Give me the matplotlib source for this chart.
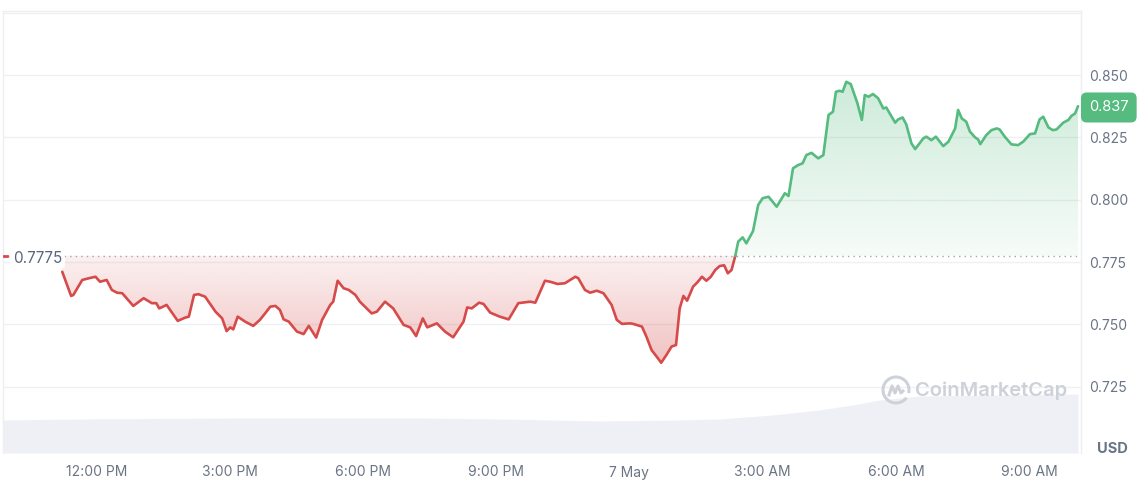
import numpy as np
import matplotlib
matplotlib.use("Agg")
import matplotlib.pyplot as plt
from matplotlib.patches import Arc
from matplotlib.lines import Line2D
from matplotlib.path import Path
from matplotlib.colors import to_rgb

plt.rcParams['font.family'] = ['Inter', 'DejaVu Sans']

# minutes after 6 May 12:00 PM
minutes = [-46, -34, -31, -19, -15, -10, -1, 5, 14, 21, 28, 35, 50, 64, 75, 81, 85, 95,
           110, 120, 125, 132, 138, 147, 161, 170, 176, 181, 185, 191, 201, 212, 221, 228,
           235, 242, 248, 253, 260, 271, 280, 287, 297, 305, 316, 320, 326, 334, 341, 350,
           356, 372, 379, 390, 401, 415, 424, 432, 441, 447, 460, 471, 482, 496, 501, 507,
           517, 523, 532, 545, 557, 570, 586, 593, 606, 613, 623, 633, 647, 651, 660, 667,
           676, 685, 696, 703, 710, 721, 725, 737, 743, 750, 757, 763, 770, 777, 783, 788,
           793, 798, 806, 812, 818, 824, 830, 836, 842, 848, 853, 858, 863, 867, 873, 878,
           887, 894, 900, 908, 919, 930, 935, 941, 948, 954, 959, 966, 975, 982, 989, 995,
           999, 1004, 1008, 1013, 1019, 1028, 1034, 1038, 1043, 1049, 1056, 1063, 1067,
           1079, 1083, 1089, 1094, 1101, 1106, 1117, 1121, 1128, 1134, 1144, 1151, 1160,
           1164, 1169, 1175, 1180, 1187, 1191, 1194, 1202, 1209, 1216, 1220, 1227, 1236,
           1245, 1252, 1261, 1268, 1274, 1279, 1286, 1292, 1297, 1306, 1313, 1317, 1322, 1326]
price = [0.7711, 0.7614, 0.7618, 0.7678, 0.7681, 0.7685, 0.7691, 0.7671, 0.7678, 0.7638,
         0.7627, 0.7625, 0.7574, 0.7605, 0.7585, 0.7585, 0.7564, 0.7578, 0.7514, 0.7527,
         0.7531, 0.7618, 0.7621, 0.7611, 0.7551, 0.7524, 0.7473, 0.7488, 0.7480, 0.7531,
         0.7511, 0.7494, 0.7518, 0.7544, 0.7571, 0.7574, 0.7558, 0.7520, 0.7511, 0.7471,
         0.7461, 0.7494, 0.7447, 0.7518, 0.7578, 0.7591, 0.7675, 0.7645, 0.7638, 0.7618,
         0.7591, 0.7544, 0.7551, 0.7591, 0.7564, 0.7498, 0.7488, 0.7453, 0.7524, 0.7488,
         0.7504, 0.7471, 0.7448, 0.7511, 0.7568, 0.7564, 0.7587, 0.7582, 0.7547, 0.7531,
         0.7520, 0.7585, 0.7591, 0.7587, 0.7675, 0.7671, 0.7662, 0.7665, 0.7691, 0.7685,
         0.7638, 0.7627, 0.7635, 0.7625, 0.7578, 0.7518, 0.7502, 0.7504, 0.7502, 0.7491,
         0.7451, 0.7397, 0.7370, 0.7346, 0.7377, 0.7411, 0.7417, 0.7564, 0.7614, 0.7595,
         0.7651, 0.7669, 0.7691, 0.7675, 0.7691, 0.7718, 0.7734, 0.7737, 0.7705, 0.7718,
         0.7774, 0.7832, 0.7849, 0.7825, 0.7874, 0.7979, 0.8006, 0.8012, 0.7972, 0.8026,
         0.8015, 0.8126, 0.8139, 0.8146, 0.8179, 0.8188, 0.8166, 0.8179, 0.8340, 0.8353,
         0.8433, 0.8437, 0.8433, 0.8473, 0.8464, 0.8387, 0.8320, 0.8420, 0.8413, 0.8424,
         0.8407, 0.8366, 0.8370, 0.8309, 0.8322, 0.8330, 0.8302, 0.8226, 0.8203, 0.8246,
         0.8253, 0.8239, 0.8253, 0.8215, 0.8233, 0.8286, 0.8360, 0.8326, 0.8313, 0.8273,
         0.8250, 0.8242, 0.8223, 0.8259, 0.8279, 0.8286, 0.8282, 0.8253, 0.8222, 0.8219,
         0.8233, 0.8263, 0.8266, 0.8322, 0.8333, 0.8290, 0.8279, 0.8282, 0.8309, 0.8320,
         0.8336, 0.8346, 0.8375]

# trading volume (relative units)
vol_minutes = [-126, -22, 194, 437, 545, 680, 788, 842, 913, 977, 1029, 1058, 1112, 1220, 1326]
volume = [33, 34, 35, 35, 34, 32, 33, 34, 38, 43, 49, 53, 57, 58, 59]

baseline = 0.7775
last_price = 0.837
y_ticks = [0.725, 0.750, 0.775, 0.800, 0.825, 0.850]
x_ticks = [0, 180, 360, 540, 720, 900, 1080, 1260]
x_labels = ['12:00 PM', '3:00 PM', '6:00 PM', '9:00 PM', '7 May', '3:00 AM', '6:00 AM', '9:00 AM']

RED = '#d64a4a'
GREEN = '#55bb7f'
GREY = '#6b7485'
W, H = 1140, 484


def split_at_baseline(t, p, base):
    ts, ps = [t[0]], [p[0]]
    for i in range(1, len(t)):
        if (p[i - 1] - base) * (p[i] - base) < 0:
            f = (base - p[i - 1]) / (p[i] - p[i - 1])
            ts.append(t[i - 1] + f * (t[i] - t[i - 1]))
            ps.append(base)
        ts.append(t[i])
        ps.append(p[i])
    return np.array(ts), np.array(ps)


def gradient_fill(ax, coll, color, y0, y1, a0, a1, xlim):
    n = 256
    rgba = np.zeros((n, 1, 4))
    rgba[..., :3] = to_rgb(color)
    rgba[:, 0, 3] = np.linspace(a0, a1, n)
    im = ax.imshow(rgba, extent=[xlim[0], xlim[1], y0, y1], origin='lower',
                   aspect='auto', zorder=2, interpolation='bilinear')
    clip = Path.make_compound_path(*coll.get_paths())
    im.set_clip_path(clip, transform=ax.transData)


fig = plt.figure(figsize=(W / 100, H / 100), dpi=100)
ax = fig.add_axes([3 / W, 1 - 453 / H, (1081 - 3) / W, (453 - 11) / H])
xlim = (-126, 1330)
ylim = (0.6984, 0.8757)

t, p = split_at_baseline(minutes, price, baseline)

# volume area at the bottom
ax.fill_between(vol_minutes, 0, np.array(volume) / 442, transform=ax.get_xaxis_transform(),
                color='#eef0f5', lw=0, zorder=1)

# grid
for yv in y_ticks + [0.875]:
    ax.axhline(yv, color='#eff0f3', lw=1, zorder=0.5)

# gradient fills
below = ax.fill_between(t, p, baseline, where=p <= baseline, interpolate=True,
                        facecolor='none', edgecolor='none')
above = ax.fill_between(t, p, baseline, where=p >= baseline, interpolate=True,
                        facecolor='none', edgecolor='none')
gradient_fill(ax, below, RED, min(price) - 0.001, baseline, 0.34, 0.08, xlim)
gradient_fill(ax, above, GREEN, baseline, max(price) + 0.001, 0.05, 0.30, xlim)

# price line
ax.plot(t, np.where(p <= baseline + 1e-9, p, np.nan), color=RED, lw=1.9, zorder=4,
        solid_joinstyle='round', solid_capstyle='round')
ax.plot(t, np.where(p >= baseline - 1e-9, p, np.nan), color=GREEN, lw=1.9, zorder=4,
        solid_joinstyle='round', solid_capstyle='round')

# opening price reference
ax.axhline(baseline, color='#a0a6b1', lw=1, ls=(0, (1, 3)), zorder=3)
ax.plot([-124, -121], [baseline, baseline], color=RED, lw=2, zorder=5)
ax.text(-113, 0.7766, '0.7775', ha='left', va='center', fontsize=11, color='#58667e', zorder=6,
        bbox=dict(boxstyle='round,pad=0.2', fc='white', ec='none'))

ax.set_xlim(*xlim)
ax.set_ylim(*ylim)

ax.set_xticks(x_ticks)
ax.set_xticklabels(x_labels)
ax.set_yticks(y_ticks)
ax.set_yticklabels([f'{v:.3f}' for v in y_ticks])
ax.yaxis.tick_right()
ax.tick_params(axis='both', length=0, labelsize=10, labelcolor=GREY)
ax.tick_params(axis='x', pad=9)
ax.tick_params(axis='y', pad=6)
for side in ['left', 'right', 'top']:
    ax.spines[side].set_color('#eeeff2')
    ax.spines[side].set_linewidth(1)
ax.spines['bottom'].set_visible(False)

# current price tag
ax.text(1.0 + 8 / 1078, last_price, f'{last_price:.3f}', transform=ax.get_yaxis_transform(),
        ha='left', va='center', fontsize=10.5, color='white', zorder=7, clip_on=False,
        bbox=dict(boxstyle='round,pad=0.55,rounding_size=0.4', fc=GREEN, ec='none'))

fig.text(1112 / W, 1 - 449 / H, 'USD', ha='center', va='center', fontsize=10.5,
         fontweight='bold', color='#6b7485')

# watermark
wm = '#cdd1da'
fig.text(915 / W, 1 - 391 / H, 'CoinMarketCap', ha='left', va='center', fontsize=14.5,
         fontweight='semibold', color=wm, zorder=8)
fig.add_artist(Arc((896 / W, 1 - 390 / H), 26 / W, 26 / H, theta1=-30, theta2=300,
                   transform=fig.transFigure, color=wm, lw=2.2))
zx = np.array([-7, -4, -1, 2, 5, 7]) + 896
zy = np.array([5, -4, 3, -4, 3, 1]) + 390
fig.add_artist(Line2D(zx / W, 1 - zy / H, transform=fig.transFigure, color=wm, lw=2.2,
                      solid_joinstyle='round'))

fig.savefig('out.png', dpi=100)
